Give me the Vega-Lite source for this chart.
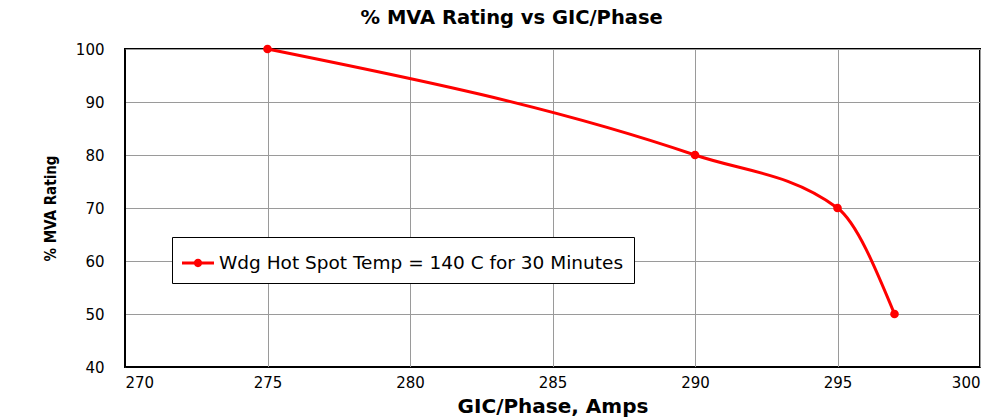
{
  "$schema": "https://vega.github.io/schema/vega-lite/v6.json",
  "width": 855,
  "height": 318,
  "autosize": "none",
  "padding": {"left": 125, "top": 49, "right": 23, "bottom": 51},
  "background": "white",
  "title": {
    "text": "% MVA Rating vs GIC/Phase",
    "font": "DejaVu Sans",
    "fontSize": 19.5,
    "fontWeight": "bold",
    "color": "#000",
    "offset": 14,
    "anchor": "middle",
    "frame": "bounds"
  },
  "config": {
    "view": {"stroke": "#000", "strokeWidth": 2},
    "axis": {
      "labelFont": "DejaVu Sans",
      "labelFontSize": 15,
      "labelColor": "#000",
      "titleFont": "DejaVu Sans",
      "titleFontSize": 20,
      "titleFontWeight": "bold",
      "titleColor": "#000",
      "gridColor": "#9a9a9a",
      "gridWidth": 1,
      "domainColor": "#000",
      "ticks": false
    }
  },
  "data": {
    "values": [
      {"gic": 275, "rating": 100, "series": "Wdg Hot Spot Temp = 140 C for 30 Minutes"},
      {"gic": 290, "rating": 80, "series": "Wdg Hot Spot Temp = 140 C for 30 Minutes"},
      {"gic": 295, "rating": 70, "series": "Wdg Hot Spot Temp = 140 C for 30 Minutes"},
      {"gic": 297, "rating": 50, "series": "Wdg Hot Spot Temp = 140 C for 30 Minutes"}
    ]
  },
  "mark": {
    "type": "line",
    "interpolate": "monotone",
    "strokeWidth": 3,
    "point": {"filled": true, "size": 75, "color": "#ff0000"}
  },
  "encoding": {
    "x": {
      "field": "gic",
      "type": "quantitative",
      "scale": {"domain": [270, 300], "nice": false, "zero": false},
      "axis": {"values": [270, 275, 280, 285, 290, 295, 300], "title": "GIC/Phase, Amps", "labelPadding": 8, "titlePadding": 6}
    },
    "y": {
      "field": "rating",
      "type": "quantitative",
      "scale": {"domain": [40, 100], "nice": false, "zero": false},
      "axis": {"values": [40, 50, 60, 70, 80, 90, 100], "title": "% MVA Rating", "titleFont": "DejaVu Sans Condensed", "titleFontSize": 15, "labelPadding": 21, "titlePadding": 17}
    },
    "color": {
      "field": "series",
      "type": "nominal",
      "scale": {"range": ["#ff0000"]},
      "legend": {
        "title": null,
        "orient": "none",
        "legendX": 47,
        "legendY": 188,
        "strokeColor": "#000",
        "fillColor": "white",
        "padding": 10,
        "labelFont": "DejaVu Sans",
        "labelFontSize": 18.5,
        "labelColor": "#000",
        "labelLimit": 500,
        "labelOffset": 5,
        "symbolType": "M-1,-0.1H-0.24V0.1H-1Z M0.24,-0.1H1V0.1H0.24Z M0.26,0A0.26,0.26 0 1 1 -0.26,0A0.26,0.26 0 1 1 0.26,0Z",
        "symbolSize": 1024,
        "symbolStrokeWidth": 0,
        "symbolFillColor": "#ff0000"
      }
    }
  }
}
